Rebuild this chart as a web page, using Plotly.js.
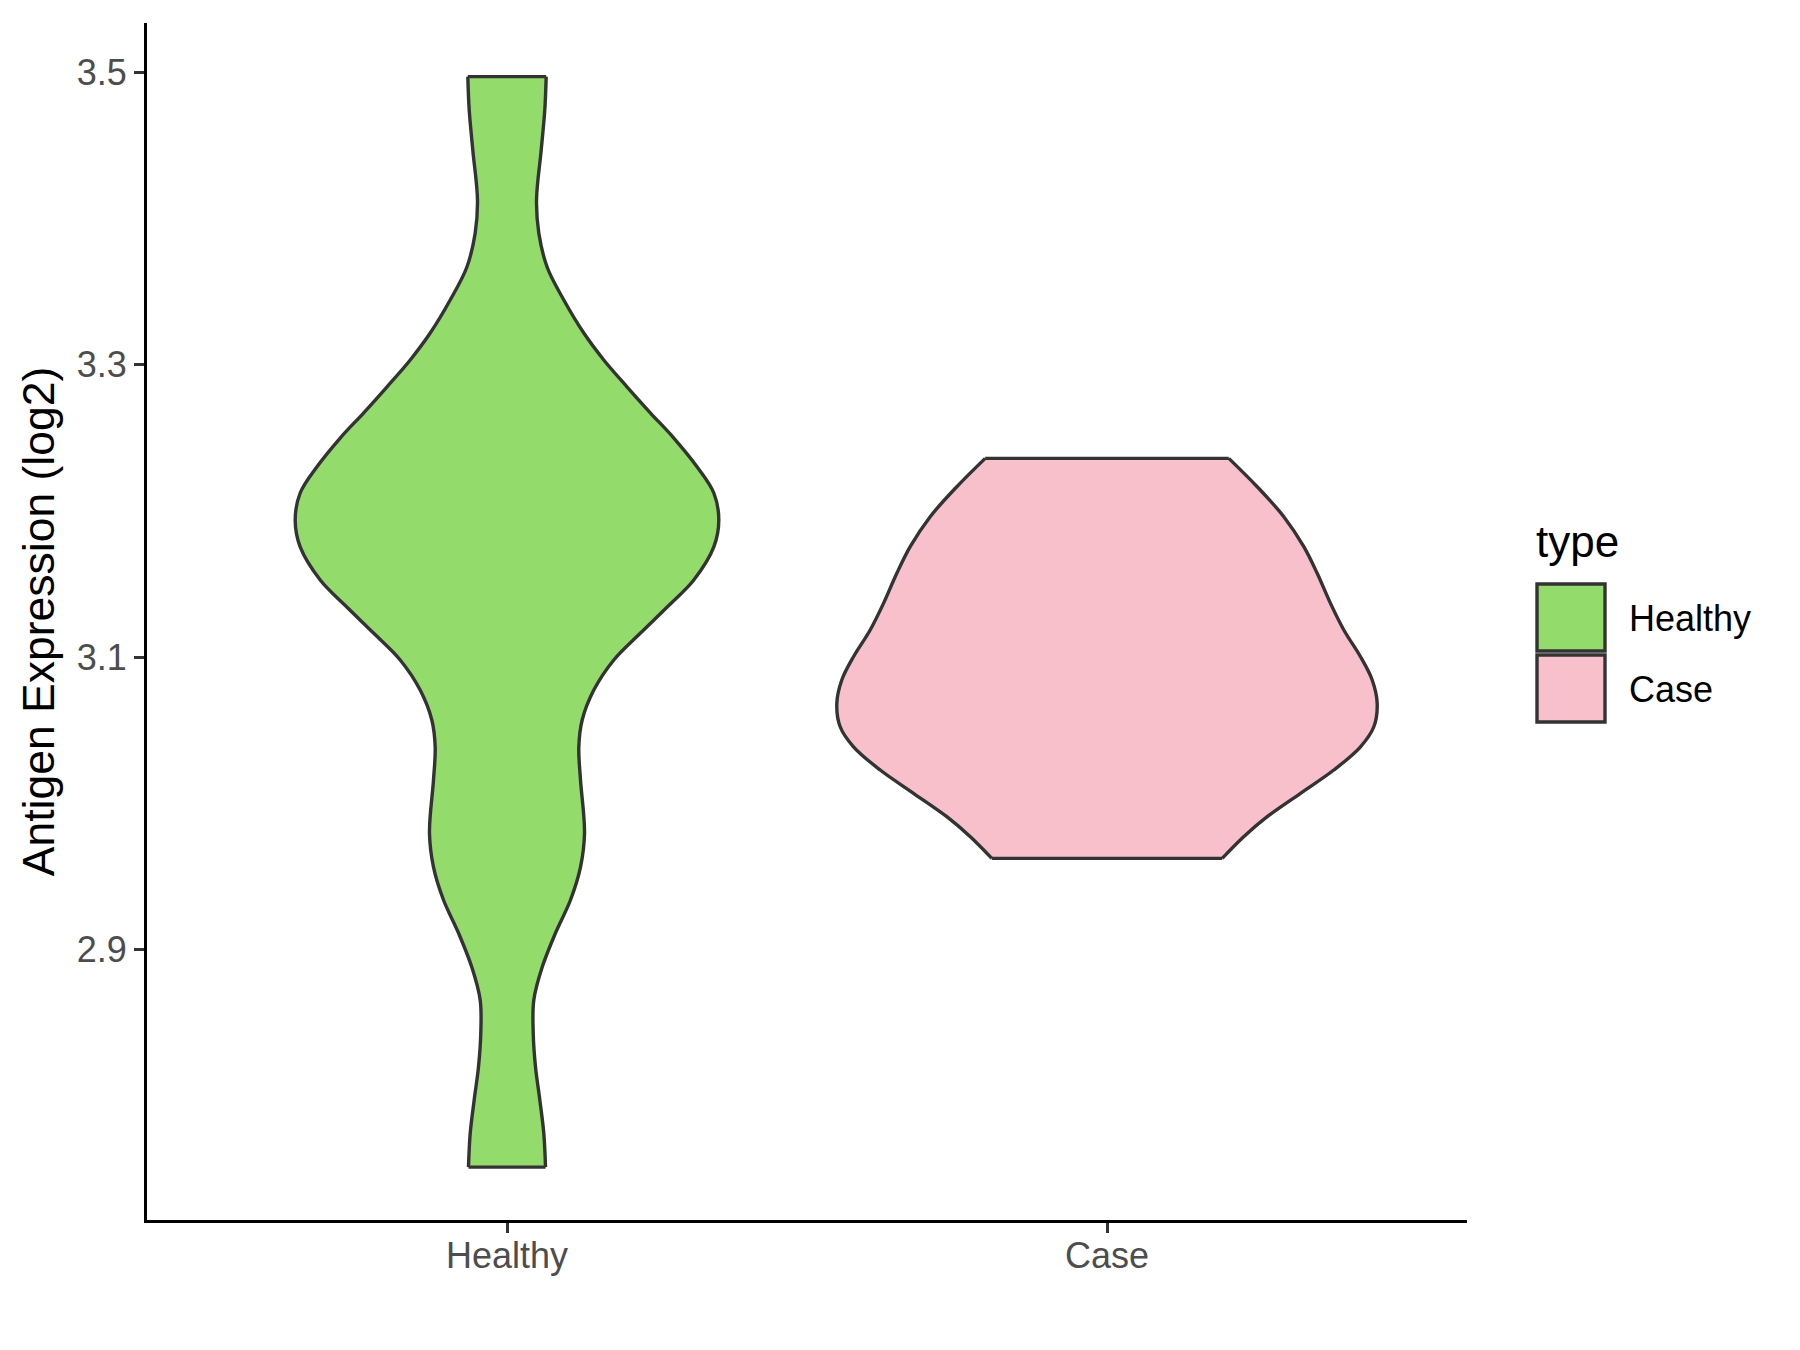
<!DOCTYPE html>
<html>
<head>
<meta charset="utf-8">
<script src="https://cdn.plot.ly/plotly-3.0.1.min.js"></script>
<style>
  html, body { margin: 0; padding: 0; background: #ffffff; }
  #chart { width: 1800px; height: 1350px; }
</style>
</head>
<body>
<div id="chart"></div>
<script>
// ---- Data ----
const categories = ["Healthy", "Case"];
const legendTitle = "type";
const yTitle = "Antigen Expression (log2)";
const yTickValues = [2.9, 3.1, 3.3, 3.5];
const yTickLabels = ["2.9", "3.1", "3.3", "3.5"];

// Density profile (half-width in category units) at expression levels, Healthy group (top -> bottom)
const healthyLevels = [3.4970, 3.4742, 3.4468, 3.4126, 3.3901, 3.3666, 3.3442, 3.3216, 3.3032, 3.2847,
  3.2669, 3.2498, 3.2300, 3.2122, 3.1937, 3.1753, 3.1527, 3.1342, 3.1164, 3.0980,
  3.0774, 3.0569, 3.0384, 3.0159, 2.9796, 2.9563, 2.9338, 2.9112, 2.8879, 2.8654,
  2.8428, 2.8196, 2.7970, 2.7744, 2.7511];
const healthyHalfWidth = [0.0653, 0.0630, 0.0570, 0.0492, 0.0530, 0.0670, 0.0947, 0.1280, 0.1613, 0.2003,
  0.2392, 0.2780, 0.3170, 0.3447, 0.3530, 0.3447, 0.3113, 0.2670, 0.2225, 0.1780,
  0.1447, 0.1253, 0.1197, 0.1225, 0.1292, 0.1225, 0.1058, 0.0808, 0.0587, 0.0447,
  0.0437, 0.0475, 0.0547, 0.0613, 0.0642];

// Density profile, Case group (top -> bottom)
const caseLevels = [3.2359, 3.2165, 3.1960, 3.1755, 3.1573, 3.1367, 3.1185, 3.1002, 3.0843, 3.0683,
  3.0523, 3.0386, 3.0227, 3.0068, 2.9908, 2.9771, 2.9623];
const caseHalfWidth = [0.2030, 0.2503, 0.2947, 0.3280, 0.3503, 0.3725, 0.3947, 0.4225, 0.4420, 0.4503,
  0.4447, 0.4225, 0.3780, 0.3225, 0.2670, 0.2278, 0.1920];

const fillColors = ["#93DB6A", "#F7C0CB"];
const outlineColor = "#333333";

// ---- Layout geometry ----
const W = 1800, H = 1350;
const M = { l: 147, r: 333, t: 23, b: 130 };
const plotW = W - M.l - M.r, plotH = H - M.t - M.b;
const px2paperX = px => (px - M.l) / plotW;
const px2paperY = py => (H - M.b - py) / plotH;
const FONT = "Liberation Sans, Arial, Helvetica, sans-serif";
const OUTLINE_W = 3.4;

function violinTraces(pos, levels, hw, fill, name) {
  const left = {
    type: "scatter", mode: "lines", name: name,
    x: levels.map((v, i) => pos - hw[i]), y: levels.slice(),
    line: { color: outlineColor, width: OUTLINE_W, shape: "spline", smoothing: 1 },
    hoverinfo: "skip", showlegend: false
  };
  const right = {
    type: "scatter", mode: "lines", name: name,
    x: levels.map((v, i) => pos + hw[i]), y: levels.slice(),
    fill: "tonextx", fillcolor: fill,
    line: { color: outlineColor, width: OUTLINE_W, shape: "spline", smoothing: 1 },
    hoverinfo: "skip", showlegend: false
  };
  const n = levels.length - 1;
  const top = {
    type: "scatter", mode: "lines", name: name,
    x: [pos - hw[0], pos + hw[0]], y: [levels[0], levels[0]],
    line: { color: outlineColor, width: OUTLINE_W },
    hoverinfo: "skip", showlegend: false
  };
  const bottom = {
    type: "scatter", mode: "lines", name: name,
    x: [pos - hw[n], pos + hw[n]], y: [levels[n], levels[n]],
    line: { color: outlineColor, width: OUTLINE_W },
    hoverinfo: "skip", showlegend: false
  };
  return [left, right, top, bottom];
}

const traces = [
  ...violinTraces(1, healthyLevels, healthyHalfWidth, fillColors[0], categories[0]),
  ...violinTraces(2, caseLevels, caseHalfWidth, fillColors[1], categories[1])
];

// Legend drawn ggplot-style
const shapes = [];
const annotations = [];
const keyX0 = 1537, keyX1 = 1605;
const keyTops = [584, 655];
const keySize = 68;
categories.forEach((c, i) => {
  shapes.push({
    type: "rect", xref: "paper", yref: "paper",
    x0: px2paperX(keyX0), x1: px2paperX(keyX1),
    y0: px2paperY(keyTops[i] + keySize - 1), y1: px2paperY(keyTops[i]),
    fillcolor: fillColors[i], line: { color: outlineColor, width: OUTLINE_W }
  });
  annotations.push({
    xref: "paper", yref: "paper", x: px2paperX(1627), y: px2paperY(keyTops[i] + keySize / 2),
    xanchor: "left", yanchor: "middle", showarrow: false, text: c,
    font: { family: FONT, size: 36, color: "#000000" }
  });
});
annotations.push({
  xref: "paper", yref: "paper", x: px2paperX(1534), y: px2paperY(541),
  xanchor: "left", yanchor: "middle", showarrow: false, text: legendTitle,
  font: { family: FONT, size: 44, color: "#000000" }
});

const layout = {
  width: W, height: H,
  margin: M,
  paper_bgcolor: "#ffffff", plot_bgcolor: "#ffffff",
  showlegend: false,
  font: { family: FONT },
  xaxis: {
    range: [0.4, 2.6], tickmode: "array", tickvals: [1, 2], ticktext: categories,
    showgrid: false, zeroline: false,
    showline: true, linecolor: "#000000", linewidth: 3,
    ticks: "outside", ticklen: 10, tickwidth: 3, tickcolor: "#333333",
    ticklabelstandoff: -8,
    tickfont: { family: FONT, size: 36, color: "#4D4D4D" },
    fixedrange: true
  },
  yaxis: {
    range: [2.7149, 3.5337], tickmode: "array", tickvals: yTickValues, ticktext: yTickLabels,
    showgrid: false, zeroline: false,
    showline: true, linecolor: "#000000", linewidth: 3,
    ticks: "outside", ticklen: 10, tickwidth: 3, tickcolor: "#333333",
    tickfont: { family: FONT, size: 36, color: "#4D4D4D" },
    title: { text: yTitle, font: { family: FONT, size: 44.5, color: "#000000" }, standoff: 9 },
    fixedrange: true
  },
  shapes: shapes,
  annotations: annotations
};

Plotly.newPlot("chart", traces, layout, { displayModeBar: false, staticPlot: true });
</script>
</body>
</html>
